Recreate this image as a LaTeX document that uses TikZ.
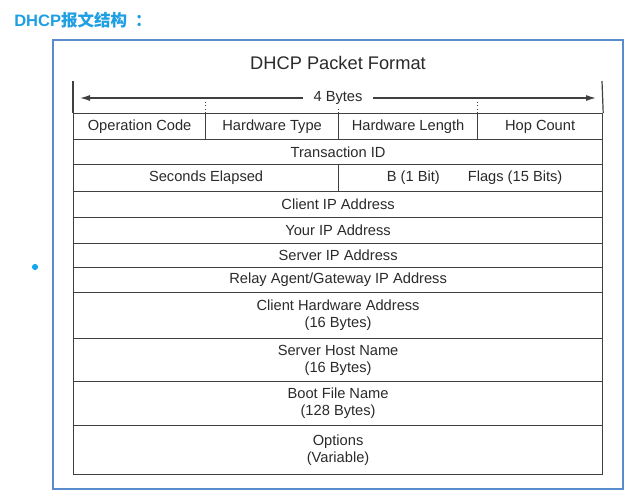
\documentclass[tikz,border=0pt]{standalone}
\usepackage{fontspec}
\setmainfont{Liberation Sans}
\newfontfamily\cjk{Noto Sans CJK SC}
\usepackage{xcolor}
\definecolor{cTitle}{HTML}{1E9FE3}
\definecolor{cFrame}{HTML}{5A8BCF}
\definecolor{cDot}{HTML}{12A8F0}
\definecolor{cLine}{HTML}{404040}
\definecolor{cText}{HTML}{2A2A2A}
\usetikzlibrary{arrows.meta}
\tikzset{
  title-text/.style={anchor=west,inner sep=0pt,text=cTitle,
    font=\bfseries\fontsize{12.4}{14}\selectfont},
  frame-line/.style={draw=cFrame,line width=1.5pt},
  format-title/.style={inner sep=0pt,text=cText,font=\fontsize{13.7}{16}\selectfont},
  field/.style={draw=cLine,line width=0.9pt,anchor=north west,inner sep=1pt,
    align=center,text=cText,font=\fontsize{11}{12.75}\selectfont},
  table-line/.style={draw=cLine,line width=0.9pt},
  tick-line/.style={draw=cLine,line width=0.6pt,dotted},
  width-arrow/.style={{Latex[length=7.5pt,width=4.5pt]}-{Latex[length=7.5pt,width=4.5pt]},
    draw=cLine,line width=0.9pt},
  bytes-label/.style={fill=white,inner xsep=8pt,inner ysep=1pt,text=cText,
    font=\fontsize{11}{12.75}\selectfont},
}
\begin{document}
\begin{tikzpicture}[x=0.75pt,y=-0.75pt]
  \useasboundingbox (0,0) rectangle (640,498);
  \node[title-text] (title) at (14,20) {DHCP{\cjk\bfseries 报文结构}\hspace{6pt}{\cjk\bfseries ：}};
  \fill[cDot] (35,267) circle (2.3pt);
  \draw[frame-line] (53,40) rectangle (623,489);
  \node[format-title] (fmt) at (338,63) {DHCP Packet Format};
  % first row: four one-byte fields
  \foreach \name/\x/\w/\txt in {opcode/73/99/{Operation Code},
      hwtype/205/99.75/{Hardware Type}, hwlen/338/104.25/{Hardware Length},
      hops/477/93.75/{Hop Count}} {
    \node[field,minimum width=\w pt,minimum height=19.5pt] (\name) at (\x,113) {\txt};
  }
  \node[field,minimum width=396.75pt,minimum height=18.75pt] (xid) at (73,139) {Transaction ID};
  \node[field,minimum width=198.75pt,minimum height=20.25pt] (secs) at (73,164) {Seconds Elapsed};
  \node[field,minimum width=198pt,minimum height=20.25pt] (flags) at (338,164)
    {\hspace*{6pt}B (1 Bit)\hspace{21pt}Flags (15 Bits)};
  % full-width rows
  \foreach \name/\y/\h/\txt in {ciaddr/191/19.5/{Client IP Address},
      yiaddr/217/19.5/{Your IP Address}, siaddr/243/18/{Server IP Address},
      giaddr/267/18.75/{Relay Agent/Gateway IP Address},
      chaddr/292/34.5/{Client Hardware Address\\(16 Bytes)},
      sname/338/32.25/{Server Host Name\\(16 Bytes)},
      bfile/381/33/{Boot File Name\\(128 Bytes)},
      options/425/36.75/{Options\\(Variable)}} {
    \node[field,minimum width=396.75pt,minimum height=\h pt] (\name) at (73,\y) {\txt};
  }
  % width marker above the table
  \coordinate (topL) at (73,81);
  \coordinate (topR) at (602,81);
  \draw[table-line] (topL) -- (opcode.north west);
  \draw[table-line] (topR) -- (hops.north east);
  \foreach \n in {hwtype,hwlen,hops}
    \draw[tick-line] (\n.north west) -- ++(0,-12);
  \coordinate (aL) at (80,98);
  \coordinate (aR) at (596,98);
  \draw[width-arrow] (aL) -- node[bytes-label] (bytes) {4 Bytes} (aR);
\end{tikzpicture}
\end{document}
